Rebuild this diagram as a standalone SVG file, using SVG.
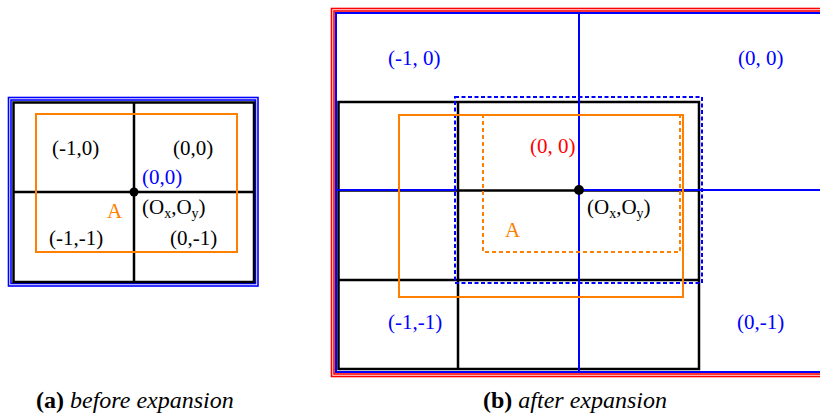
<svg xmlns="http://www.w3.org/2000/svg" width="820" height="417" viewBox="0 0 820 417">
<style>
text{font-family:"Liberation Serif","Times New Roman",serif;font-size:21px}
.blk{fill:none;stroke:#000;stroke-width:2.5}
.blu{fill:none;stroke:#0000FF;stroke-width:1.6}
.red{fill:none;stroke:#FF0000;stroke-width:1.6}
.org{fill:none;stroke:#FF8000;stroke-width:2}
.orgd{fill:none;stroke:#FF8000;stroke-width:2;stroke-dasharray:4 3}
.blud{fill:none;stroke:#0000FF;stroke-width:2;stroke-dasharray:4 2.5}
.tb{fill:#0000FF}.tr{fill:#FF0000}.to{fill:#FF8000}.tk{fill:#000}
.cap{font-size:24px}
</style>
<rect width="820" height="417" fill="#fff"/>
<!-- Panel a -->
<g id="panel-a">
  <rect class="blu" x="8.5" y="97.5" width="249.5" height="188.5"/>
  <rect class="blu" x="11" y="100" width="244.5" height="183.5"/>
  <rect class="blk" x="13.5" y="102.5" width="240.5" height="179.5"/>
  <g id="a-grid">
    <line class="blk" x1="134" y1="102.5" x2="134" y2="282"/>
    <line class="blk" x1="13.5" y1="192" x2="254" y2="192"/>
  </g>
  <rect id="a-A" class="org" x="36" y="114" width="201" height="138"/>
  <circle cx="134" cy="192" r="4.5" fill="#000"/>
  <text class="tk" x="52" y="155">(-1,0)</text>
  <text class="tk" x="173" y="155">(0,0)</text>
  <text class="tk" x="49" y="245">(-1,-1)</text>
  <text class="tk" x="170" y="245">(0,-1)</text>
  <text class="tb" x="142" y="184">(0,0)</text>
  <text class="tk" x="142" y="214">(O<tspan font-size="14" dy="4">x</tspan><tspan dy="-4">,O</tspan><tspan font-size="14" dy="4">y</tspan><tspan dy="-4">)</tspan></text>
  <text class="to" x="107" y="218">A</text>
</g>
<!-- Panel b -->
<g id="panel-b">
  <rect class="red" x="331.5" y="8.5" width="520" height="368"/>
  <rect class="red" x="334" y="11" width="520" height="363"/>
  <rect class="blu" x="336" y="13" width="520" height="359" style="stroke-width:2"/>
  <rect class="blk" x="338.5" y="102" width="360.5" height="267"/>
  <g id="b-black-grid">
    <line class="blk" x1="458" y1="102" x2="458" y2="369"/>
    <line class="blk" x1="338.5" y1="280" x2="699" y2="280"/>
    <line class="blk" x1="338.5" y1="190.5" x2="699" y2="190.5"/>
  </g>
  <g id="b-blue-grid">
    <line class="blu" style="stroke-width:2" x1="579" y1="13" x2="579" y2="372"/>
    <line class="blu" style="stroke-width:2" x1="336" y1="190" x2="457" y2="190"/>
    <line class="blu" style="stroke-width:2" x1="579" y1="190" x2="820" y2="190"/>
  </g>
  <rect id="b-dashed-blue" class="blud" x="455" y="97" width="247" height="186"/>
  <rect id="b-A" class="org" x="399" y="115" width="284" height="182"/>
  <rect id="b-A-dashed" class="orgd" x="483" y="115" width="197" height="137"/>
  <circle cx="579" cy="190" r="5" fill="#000"/>
  <text class="tb" x="388" y="65">(-1, 0)</text>
  <text class="tb" x="738" y="65">(0, 0)</text>
  <text class="tb" x="388" y="329">(-1,-1)</text>
  <text class="tb" x="737" y="329">(0,-1)</text>
  <text class="tr" x="530" y="153">(0, 0)</text>
  <text class="tk" x="587" y="214">(O<tspan font-size="14" dy="4">x</tspan><tspan dy="-4">,O</tspan><tspan font-size="14" dy="4">y</tspan><tspan dy="-4">)</tspan></text>
  <text class="to" x="505" y="237">A</text>
</g>
<g id="captions">
  <text class="cap tk" x="36" y="408"><tspan font-weight="bold">(a)</tspan> <tspan font-style="italic">before expansion</tspan></text>
  <text class="cap tk" x="483" y="408"><tspan font-weight="bold">(b)</tspan> <tspan font-style="italic">after expansion</tspan></text>
</g>
</svg>
